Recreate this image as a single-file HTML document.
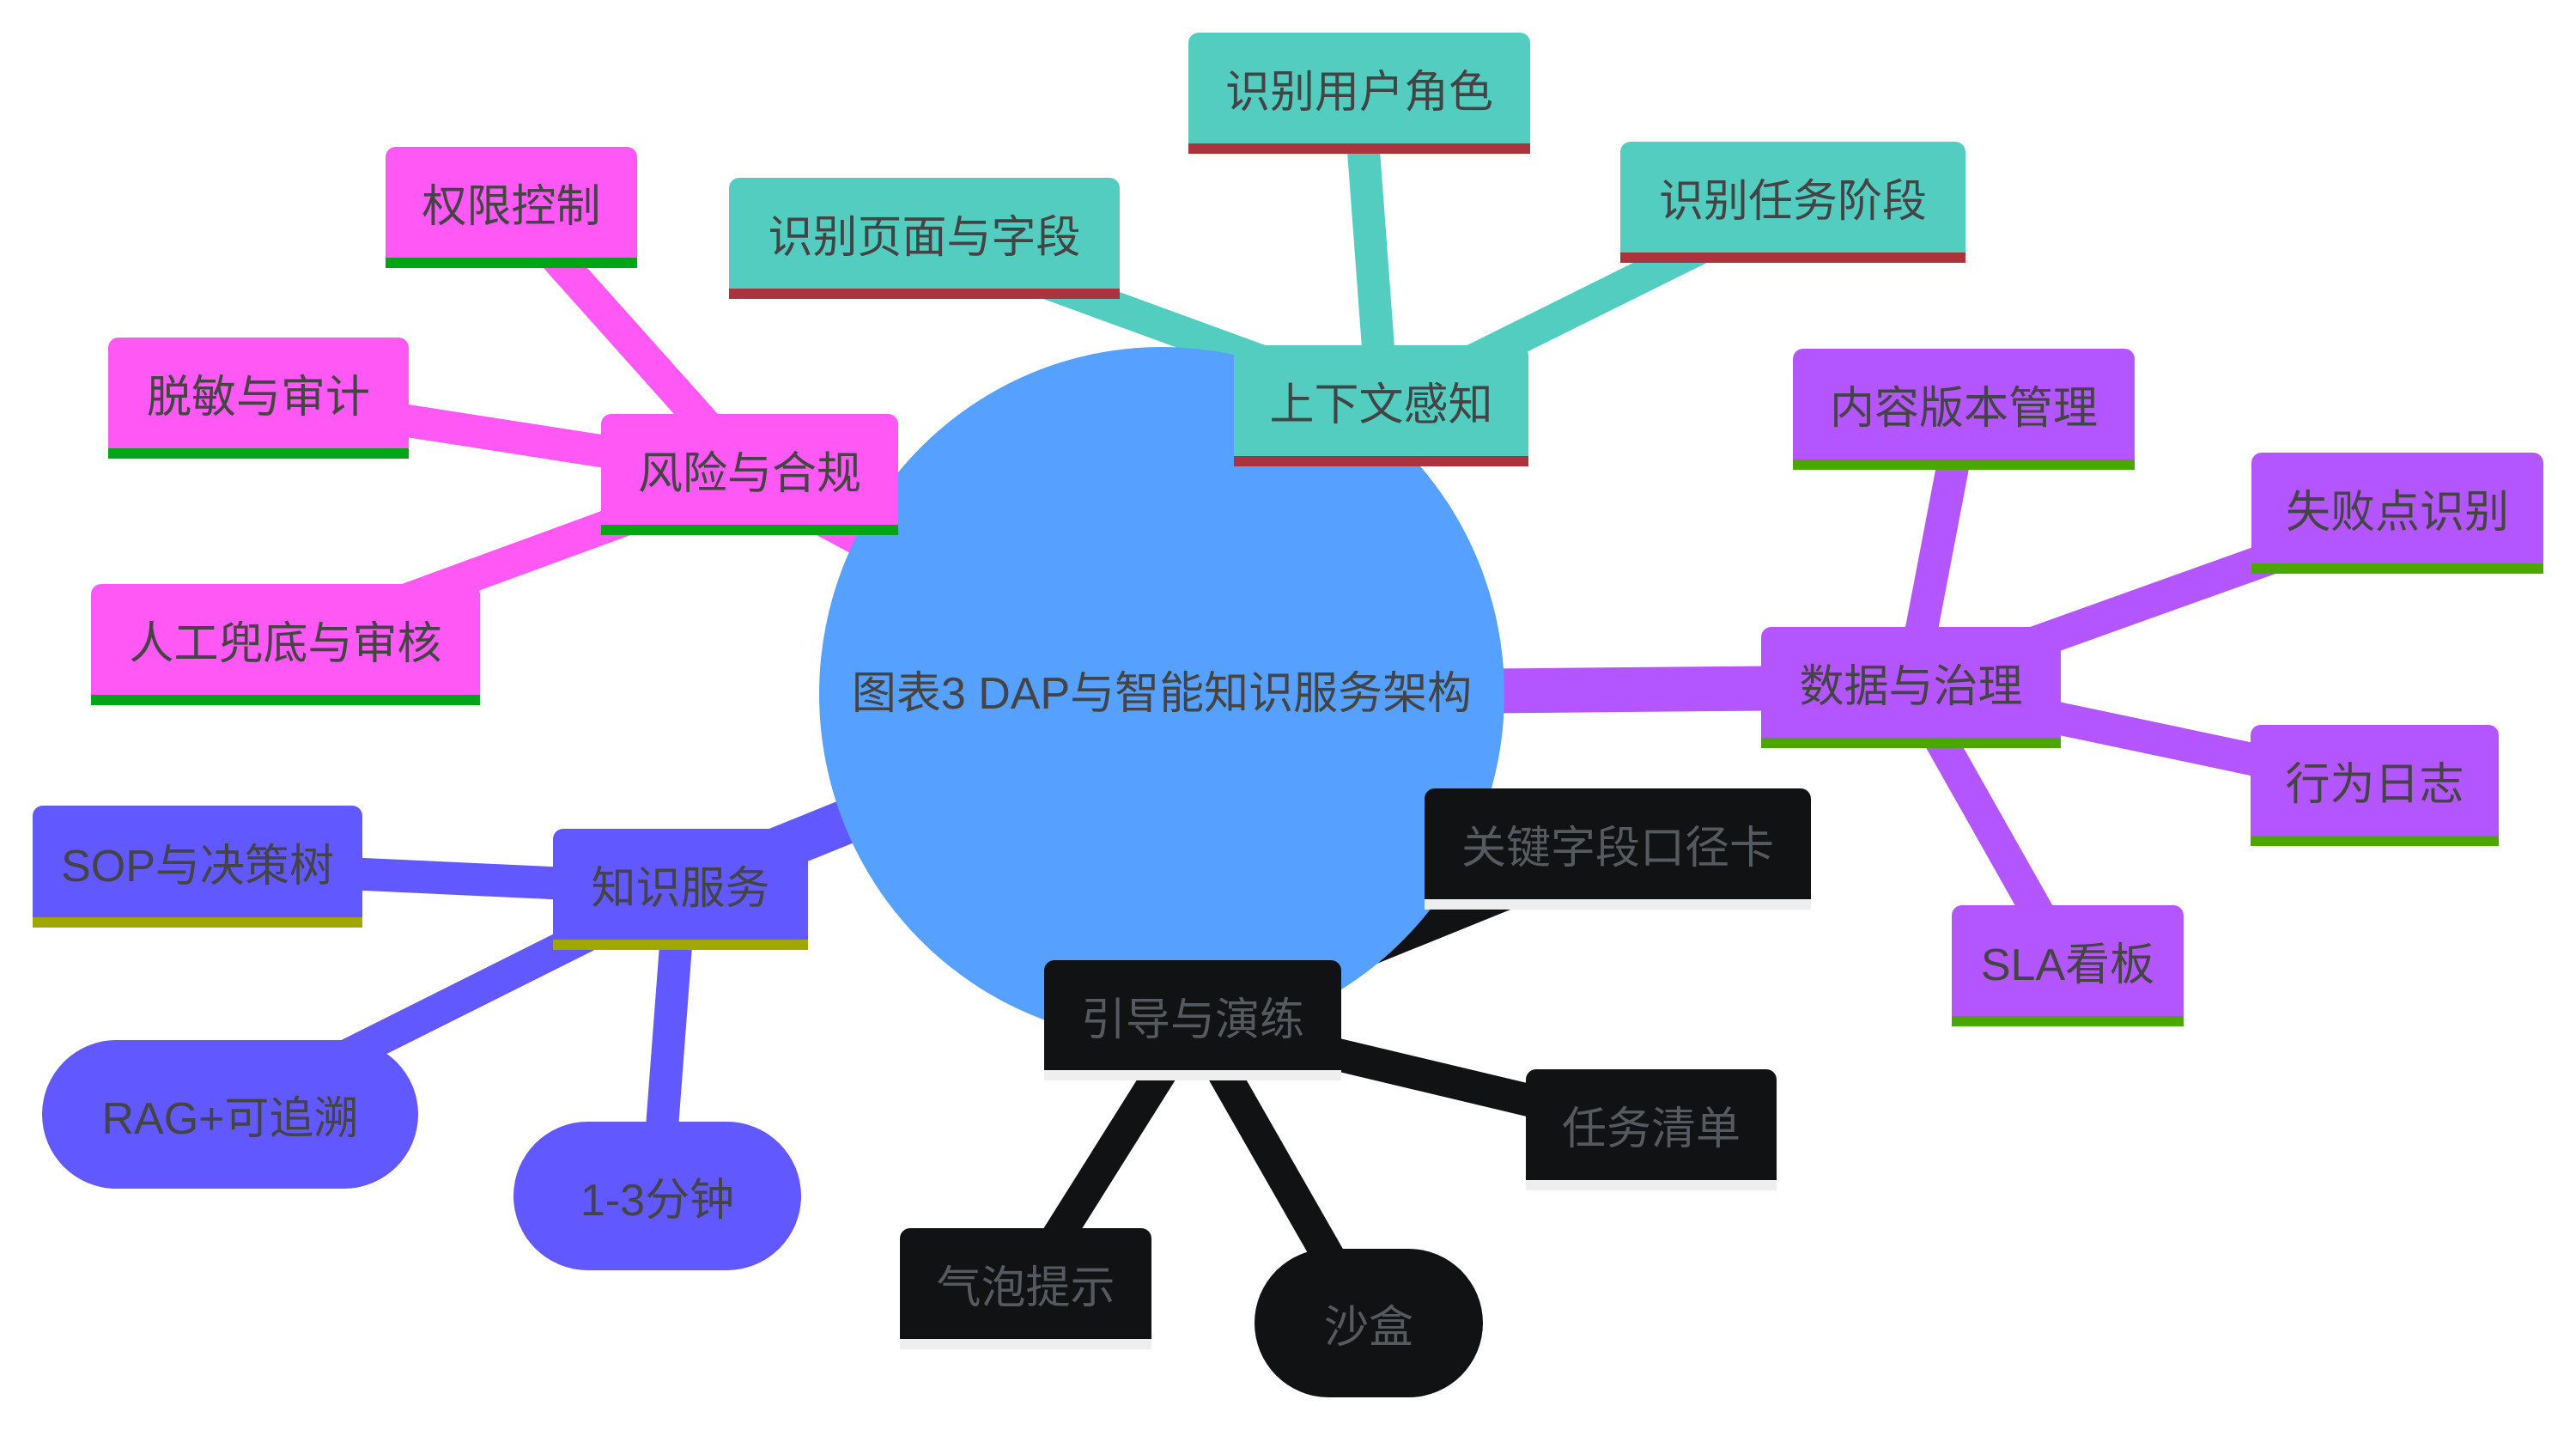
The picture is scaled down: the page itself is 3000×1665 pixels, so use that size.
<!DOCTYPE html>
<html><head><meta charset="utf-8"><style>
html,body{margin:0;padding:0;background:#fff;}
body{width:3000px;height:1665px;position:relative;overflow:hidden;font-family:"Liberation Sans","Noto Sans CJK SC",sans-serif;}
.n{position:absolute;box-sizing:border-box;display:flex;align-items:center;justify-content:center;font-size:52px;color:#444;border-radius:12px 12px 0 0;padding-bottom:12px;white-space:nowrap;}
.n:after{content:"";position:absolute;left:0;right:0;bottom:0;height:12px;}
.t{background:#54cdc1;} .t:after{background:#ab333e;}
.p{background:#ff58f5;} .p:after{background:#00a516;}
.v{background:#b456ff;} .v:after{background:#4ba700;}
.b{background:#6258ff;} .b:after{background:#a0a800;}
.k{background:#101214;color:#555a60;} .k:after{background:#eeeeee;}
.r{border-radius:90px;padding-bottom:0;} .r:after{display:none;}
svg{position:absolute;left:0;top:0;}
</style></head><body>
<svg width="3000" height="1665">
<g stroke-linecap="butt" fill="none">
<line x1="1353" y1="808" x2="1610" y2="472" stroke="#54cdc1" stroke-width="52"/>
<line x1="1610" y1="472" x2="1076" y2="277" stroke="#54cdc1" stroke-width="38"/>
<line x1="1610" y1="472" x2="1583" y2="108" stroke="#54cdc1" stroke-width="38"/>
<line x1="1610" y1="472" x2="2088" y2="235" stroke="#54cdc1" stroke-width="38"/>
<line x1="1353" y1="808" x2="873" y2="552" stroke="#ff58f5" stroke-width="52"/>
<line x1="873" y1="552" x2="595" y2="241" stroke="#ff58f5" stroke-width="38"/>
<line x1="873" y1="552" x2="301" y2="463" stroke="#ff58f5" stroke-width="38"/>
<line x1="873" y1="552" x2="332" y2="750" stroke="#ff58f5" stroke-width="38"/>
<line x1="1353" y1="808" x2="2225" y2="800" stroke="#b456ff" stroke-width="52"/>
<line x1="2225" y1="800" x2="2287" y2="476" stroke="#b456ff" stroke-width="38"/>
<line x1="2225" y1="800" x2="2792" y2="597" stroke="#b456ff" stroke-width="38"/>
<line x1="2225" y1="800" x2="2765" y2="914" stroke="#b456ff" stroke-width="38"/>
<line x1="2225" y1="800" x2="2408" y2="1124" stroke="#b456ff" stroke-width="38"/>
<line x1="1353" y1="808" x2="792" y2="1035" stroke="#6258ff" stroke-width="52"/>
<line x1="792" y1="1035" x2="230" y2="1009" stroke="#6258ff" stroke-width="38"/>
<line x1="792" y1="1035" x2="268" y2="1297" stroke="#6258ff" stroke-width="38"/>
<line x1="792" y1="1035" x2="765" y2="1392" stroke="#6258ff" stroke-width="38"/>
<line x1="1353" y1="808" x2="1390" y2="1188" stroke="#101214" stroke-width="52"/>
<line x1="1390" y1="1188" x2="1884" y2="988" stroke="#101214" stroke-width="38"/>
<line x1="1390" y1="1188" x2="1923" y2="1315" stroke="#101214" stroke-width="38"/>
<line x1="1390" y1="1188" x2="1194" y2="1500" stroke="#101214" stroke-width="38"/>
<line x1="1390" y1="1188" x2="1594" y2="1545" stroke="#101214" stroke-width="38"/>
</g>
<ellipse cx="1353" cy="808" rx="399" ry="404" fill="#56a0ff"/>
<text x="1353" y="825" text-anchor="middle" font-size="52" fill="#444" font-family="Liberation Sans, Noto Sans CJK SC, sans-serif">图表3 DAP与智能知识服务架构</text>
</svg>
<div class="n t" style="left:1437px;top:402px;width:343px;height:141px;">上下文感知</div>
<div class="n t" style="left:849px;top:207px;width:455px;height:141px;">识别页面与字段</div>
<div class="n t" style="left:1384px;top:38px;width:398px;height:141px;">识别用户角色</div>
<div class="n t" style="left:1887px;top:165px;width:402px;height:141px;">识别任务阶段</div>
<div class="n p" style="left:700px;top:482px;width:346px;height:141px;">风险与合规</div>
<div class="n p" style="left:449px;top:171px;width:293px;height:141px;">权限控制</div>
<div class="n p" style="left:126px;top:393px;width:350px;height:141px;">脱敏与审计</div>
<div class="n p" style="left:106px;top:680px;width:453px;height:141px;">人工兜底与审核</div>
<div class="n v" style="left:2051px;top:730px;width:349px;height:141px;">数据与治理</div>
<div class="n v" style="left:2088px;top:406px;width:398px;height:141px;">内容版本管理</div>
<div class="n v" style="left:2622px;top:527px;width:340px;height:141px;">失败点识别</div>
<div class="n v" style="left:2621px;top:844px;width:289px;height:141px;">行为日志</div>
<div class="n v" style="left:2273px;top:1054px;width:270px;height:141px;">SLA看板</div>
<div class="n b" style="left:644px;top:965px;width:297px;height:141px;">知识服务</div>
<div class="n b" style="left:38px;top:938px;width:384px;height:142px;">SOP与决策树</div>
<div class="n b r" style="left:49px;top:1211px;width:438px;height:173px;">RAG+可追溯</div>
<div class="n b r" style="left:598px;top:1306px;width:335px;height:173px;">1-3分钟</div>
<div class="n k" style="left:1216px;top:1118px;width:346px;height:140px;">引导与演练</div>
<div class="n k" style="left:1659px;top:918px;width:450px;height:141px;">关键字段口径卡</div>
<div class="n k" style="left:1777px;top:1245px;width:292px;height:141px;">任务清单</div>
<div class="n k" style="left:1048px;top:1430px;width:293px;height:141px;">气泡提示</div>
<div class="n k r" style="left:1461px;top:1454px;width:266px;height:173px;">沙盒</div>
</body></html>
